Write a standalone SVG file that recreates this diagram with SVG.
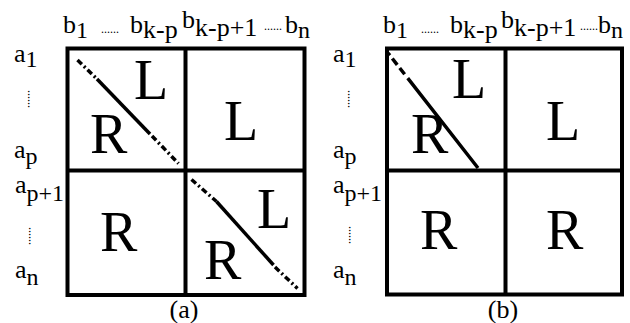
<svg xmlns="http://www.w3.org/2000/svg" width="630" height="323" viewBox="0 0 630 323" font-family="'Liberation Serif','Times New Roman',serif">
<style>
text{font-family:"Liberation Serif","Times New Roman",serif;fill:#000}
.lb{font-size:26px}
.sb{font-size:24px}
.st{font-size:26px}
.big{font-size:56px}
.dots{font-size:12px}
.cap{font-size:26px}
.box{fill:none;stroke:#000;stroke-width:4}
.sol{stroke:#000;stroke-width:3.5;fill:none}
.dd{stroke:#000;stroke-width:3.5;fill:none;stroke-dasharray:6 3 2 3}
</style>
<rect width="630" height="323" fill="#fff"/>
<g id="panel-a">
  <g id="a-grid">
    <rect class="box" x="67.5" y="48.5" width="237" height="246.5"/>
    <line class="box" x1="185.5" y1="48.5" x2="185.5" y2="295"/>
    <line class="box" x1="67.5" y1="170.5" x2="304.5" y2="170.5"/>
  </g>
  <g id="a-diagonals">
    <line class="dd" x1="77.5" y1="60" x2="97" y2="79"/>
    <line class="sol" x1="97" y1="79" x2="150" y2="134"/>
    <line class="dd" x1="152" y1="136" x2="178.5" y2="163.5"/>
    <line class="dd" x1="191.5" y1="179.5" x2="216.5" y2="201.5"/>
    <line class="sol" x1="216.5" y1="201.5" x2="273.5" y2="265"/>
    <line class="dd" x1="275" y1="267" x2="297.5" y2="288.5"/>
  </g>
  <g id="a-cells">
    <text class="big" x="134" y="99">L</text>
    <text class="big" x="90" y="153">R</text>
    <text class="big" x="224" y="140">L</text>
    <text class="big" x="100" y="251">R</text>
    <text class="big" x="257" y="228">L</text>
    <text class="big" x="204" y="279">R</text>
  </g>
  <g id="a-labels">
    <text class="lb" x="63" y="33">b<tspan class="sb" dy="5">1</tspan></text>
    <text class="dots" x="101" y="33">......</text>
    <text class="lb" x="130" y="33">b<tspan class="st" dy="5">k-p</tspan></text>
    <text class="lb" x="182" y="28">b<tspan class="st" dy="8">k-p+1</tspan></text>
    <text class="dots" x="264" y="30">......</text>
    <text class="lb" x="285" y="33">b<tspan class="sb" dy="5">n</tspan></text>
    <text class="lb" x="14" y="62">a<tspan class="sb" dy="5">1</tspan></text>
    <text class="dots" transform="translate(28,90) rotate(90)">......</text>
    <text class="lb" x="14" y="158">a<tspan class="sb" dy="6">p</tspan></text>
    <text class="lb" x="15" y="193">a<tspan class="sb" dy="8">p+1</tspan></text>
    <text class="dots" transform="translate(29,227) rotate(90)">......</text>
    <text class="lb" x="15" y="278">a<tspan class="sb" dy="7">n</tspan></text>
    <text class="cap" x="184" y="318" text-anchor="middle">(a)</text>
  </g>
</g>
<g id="panel-b">
  <g id="b-grid">
    <rect class="box" x="387" y="48.5" width="235" height="246"/>
    <line class="box" x1="505.5" y1="48.5" x2="505.5" y2="294.5"/>
    <line class="box" x1="387" y1="170.5" x2="622" y2="170.5"/>
  </g>
  <g id="b-diagonals">
    <line class="sol" x1="388" y1="53" x2="478" y2="168" stroke-dasharray="3 4 8 4 8 5 200"/>
  </g>
  <g id="b-cells">
    <text class="big" x="452" y="98">L</text>
    <text class="big" x="411" y="153">R</text>
    <text class="big" x="546" y="140">L</text>
    <text class="big" x="420" y="249">R</text>
    <text class="big" x="546" y="249">R</text>
  </g>
  <g id="b-labels">
    <text class="lb" x="383" y="33">b<tspan class="sb" dy="5">1</tspan></text>
    <text class="dots" x="421" y="33">......</text>
    <text class="lb" x="450" y="33">b<tspan class="st" dy="5">k-p</tspan></text>
    <text class="lb" x="501" y="28">b<tspan class="st" dy="8">k-p+1</tspan></text>
    <text class="dots" x="580" y="30">......</text>
    <text class="lb" x="598" y="33">b<tspan class="sb" dy="5">n</tspan></text>
    <text class="lb" x="333" y="62">a<tspan class="sb" dy="5">1</tspan></text>
    <text class="dots" transform="translate(348,90) rotate(90)">......</text>
    <text class="lb" x="333" y="158">a<tspan class="sb" dy="6">p</tspan></text>
    <text class="lb" x="333" y="193">a<tspan class="sb" dy="8">p+1</tspan></text>
    <text class="dots" transform="translate(349,226) rotate(90)">......</text>
    <text class="lb" x="333" y="278">a<tspan class="sb" dy="7">n</tspan></text>
    <text class="cap" x="503" y="318" text-anchor="middle">(b)</text>
  </g>
</g>
</svg>
